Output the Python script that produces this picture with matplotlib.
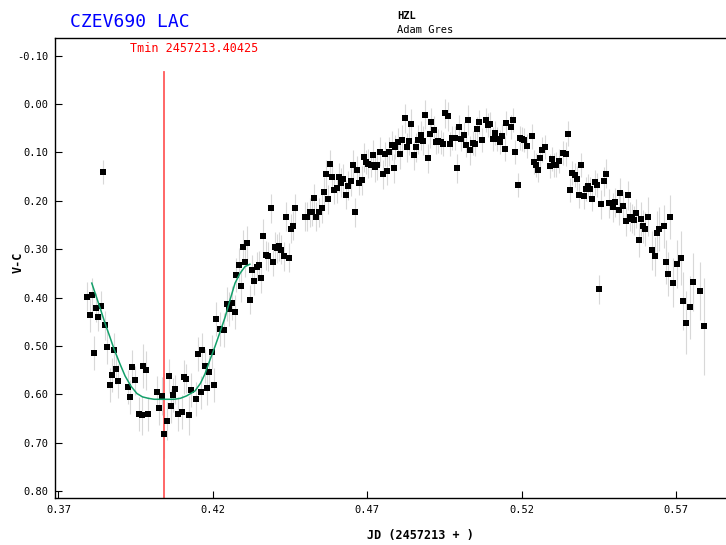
import matplotlib
matplotlib.use("Agg")
import matplotlib.pyplot as plt
import numpy as np

# JD - 2457213, V-C magnitude, error
jd = [0.3794, 0.3801, 0.3808, 0.3816, 0.3822, 0.3828, 0.3838, 0.3844, 0.3851, 0.3858,
      0.3866, 0.3873, 0.3880, 0.3887, 0.3894, 0.3925, 0.3933, 0.3939, 0.3947, 0.3962,
      0.3970, 0.3975, 0.3983, 0.3990, 0.4018, 0.4026, 0.4034, 0.4041, 0.4051, 0.4058,
      0.4064, 0.4070, 0.4079, 0.4086, 0.4099, 0.4107, 0.4114, 0.4122, 0.4128, 0.4147,
      0.4153, 0.4161, 0.4166, 0.4174, 0.4181, 0.4188, 0.4196, 0.4203, 0.4210, 0.4223,
      0.4237, 0.4245, 0.4252, 0.4261, 0.4271, 0.4276, 0.4285, 0.4291, 0.4298, 0.4305,
      0.4312, 0.4320, 0.4328, 0.4334, 0.4342, 0.4350, 0.4356, 0.4364, 0.4371, 0.4380,
      0.4388, 0.4395, 0.4401, 0.4409, 0.4414, 0.4422, 0.4431, 0.4438, 0.4446, 0.4452,
      0.4459, 0.4466, 0.4499, 0.4506, 0.4515, 0.4522, 0.4528, 0.4535, 0.4543, 0.4553,
      0.4559, 0.4567, 0.4573, 0.4580, 0.4587, 0.4593, 0.4601, 0.4609, 0.4615, 0.4623,
      0.4631, 0.4639, 0.4647, 0.4654, 0.4662, 0.4667, 0.4674, 0.4682, 0.4691, 0.4697,
      0.4704, 0.4711, 0.4719, 0.4726, 0.4733, 0.4740, 0.4750, 0.4758, 0.4765, 0.4770,
      0.4779, 0.4786, 0.4791, 0.4800, 0.4807, 0.4814, 0.4821, 0.4829, 0.4835, 0.4843,
      0.4851, 0.4857, 0.4864, 0.4873, 0.4881, 0.4888, 0.4896, 0.4902, 0.4908, 0.4915,
      0.4923, 0.4930, 0.4938, 0.4945, 0.4953, 0.4961, 0.4967, 0.4975, 0.4985, 0.4992,
      0.4998, 0.5005, 0.5013, 0.5020, 0.5027, 0.5034, 0.5042, 0.5049, 0.5057, 0.5063,
      0.5071, 0.5085, 0.5092, 0.5099, 0.5108, 0.5114, 0.5121, 0.5129, 0.5137, 0.5145,
      0.5151, 0.5166, 0.5172, 0.5179, 0.5187, 0.5194, 0.5202, 0.5208, 0.5216, 0.5233,
      0.5239, 0.5246, 0.5254, 0.5261, 0.5267, 0.5276, 0.5291, 0.5297, 0.5304, 0.5312,
      0.5320, 0.5333, 0.5345, 0.5351, 0.5358, 0.5364, 0.5372, 0.5379, 0.5386, 0.5393,
      0.5401, 0.5408, 0.5414, 0.5421, 0.5429, 0.5437, 0.5444, 0.5451, 0.5458, 0.5467,
      0.5474, 0.5482, 0.5496, 0.5504, 0.5514, 0.5520, 0.5528, 0.5537, 0.5543, 0.5551,
      0.5558, 0.5565, 0.5572, 0.5579, 0.5587, 0.5594, 0.5600, 0.5608, 0.5622, 0.5633,
      0.5638, 0.5646, 0.5661, 0.5667, 0.5674, 0.5681, 0.5689, 0.5703, 0.5717, 0.5724,
      0.5731, 0.5745, 0.5756, 0.5777, 0.5791]
vc = [0.398, 0.435, 0.394, 0.514, 0.421, 0.439, 0.417, 0.141, 0.457, 0.503,
      0.580, 0.559, 0.508, 0.548, 0.573, 0.585, 0.605, 0.544, 0.571, 0.641,
      0.643, 0.541, 0.550, 0.640, 0.596, 0.628, 0.603, 0.682, 0.655, 0.562,
      0.623, 0.601, 0.589, 0.641, 0.636, 0.564, 0.568, 0.643, 0.591, 0.610,
      0.517, 0.596, 0.508, 0.541, 0.586, 0.553, 0.512, 0.580, 0.444, 0.465,
      0.467, 0.414, 0.424, 0.412, 0.430, 0.353, 0.333, 0.375, 0.295, 0.327,
      0.287, 0.404, 0.342, 0.365, 0.336, 0.333, 0.360, 0.273, 0.312, 0.315,
      0.215, 0.326, 0.295, 0.298, 0.294, 0.301, 0.315, 0.233, 0.318, 0.258,
      0.251, 0.215, 0.233, 0.233, 0.224, 0.223, 0.195, 0.233, 0.224, 0.215,
      0.181, 0.145, 0.197, 0.124, 0.151, 0.177, 0.174, 0.151, 0.163, 0.154,
      0.187, 0.169, 0.160, 0.126, 0.224, 0.137, 0.163, 0.158, 0.110, 0.120,
      0.123, 0.126, 0.105, 0.131, 0.127, 0.099, 0.145, 0.103, 0.138, 0.099,
      0.085, 0.133, 0.088, 0.079, 0.104, 0.074, 0.029, 0.089, 0.076, 0.041,
      0.106, 0.089, 0.074, 0.065, 0.076, 0.022, 0.112, 0.061, 0.038, 0.054,
      0.079, 0.077, 0.079, 0.083, 0.019, 0.025, 0.083, 0.070, 0.070, 0.133,
      0.048, 0.072, 0.063, 0.085, 0.033, 0.096, 0.081, 0.083, 0.051, 0.037,
      0.074, 0.033, 0.044, 0.042, 0.072, 0.060, 0.073, 0.078, 0.067, 0.092,
      0.040, 0.047, 0.033, 0.099, 0.167, 0.071, 0.073, 0.074, 0.087, 0.067,
      0.119, 0.126, 0.136, 0.112, 0.094, 0.089, 0.128, 0.114, 0.126, 0.125,
      0.117, 0.101, 0.103, 0.061, 0.178, 0.142, 0.147, 0.154, 0.189, 0.126,
      0.191, 0.176, 0.169, 0.175, 0.196, 0.162, 0.167, 0.383, 0.207, 0.160,
      0.144, 0.205, 0.213, 0.203, 0.219, 0.183, 0.210, 0.242, 0.189, 0.233,
      0.237, 0.240, 0.226, 0.281, 0.237, 0.253, 0.258, 0.233, 0.302, 0.315,
      0.267, 0.258, 0.253, 0.326, 0.351, 0.233, 0.369, 0.330, 0.318, 0.407,
      0.452, 0.420, 0.367, 0.387, 0.459]
err = [0.030, 0.035, 0.035, 0.035, 0.030, 0.030, 0.030, 0.025, 0.030, 0.035,
       0.035, 0.035, 0.035, 0.030, 0.035, 0.035, 0.035, 0.035, 0.030, 0.035,
       0.040, 0.045, 0.040, 0.035, 0.035, 0.035, 0.040, 0.050, 0.040, 0.035,
       0.035, 0.035, 0.030, 0.035, 0.035, 0.035, 0.030, 0.040, 0.035, 0.035,
       0.035, 0.035, 0.035, 0.035, 0.035, 0.035, 0.035, 0.035, 0.035, 0.035,
       0.035, 0.035, 0.035, 0.035, 0.035, 0.035, 0.035, 0.035, 0.035, 0.030,
       0.035, 0.030, 0.030, 0.030, 0.030, 0.030, 0.030, 0.035, 0.030, 0.030,
       0.030, 0.030, 0.030, 0.030, 0.030, 0.030, 0.030, 0.030, 0.030, 0.030,
       0.030, 0.030, 0.030, 0.030, 0.030, 0.030, 0.030, 0.030, 0.030, 0.030,
       0.030, 0.030, 0.030, 0.030, 0.030, 0.030, 0.030, 0.030, 0.030, 0.030,
       0.030, 0.030, 0.030, 0.030, 0.030, 0.030, 0.025, 0.030, 0.030, 0.025,
       0.030, 0.025, 0.030, 0.030, 0.030, 0.030, 0.030, 0.025, 0.030, 0.030,
       0.030, 0.030, 0.025, 0.030, 0.030, 0.030, 0.030, 0.030, 0.030, 0.030,
       0.030, 0.030, 0.030, 0.030, 0.030, 0.030, 0.030, 0.030, 0.030, 0.030,
       0.025, 0.025, 0.025, 0.025, 0.030, 0.030, 0.025, 0.025, 0.025, 0.030,
       0.025, 0.025, 0.025, 0.025, 0.030, 0.030, 0.025, 0.025, 0.025, 0.025,
       0.025, 0.025, 0.025, 0.025, 0.025, 0.025, 0.025, 0.025, 0.025, 0.025,
       0.025, 0.025, 0.025, 0.025, 0.025, 0.025, 0.025, 0.025, 0.025, 0.025,
       0.025, 0.025, 0.025, 0.025, 0.025, 0.025, 0.025, 0.025, 0.025, 0.025,
       0.025, 0.025, 0.025, 0.025, 0.025, 0.025, 0.025, 0.025, 0.025, 0.025,
       0.025, 0.025, 0.025, 0.025, 0.025, 0.025, 0.025, 0.030, 0.030, 0.030,
       0.030, 0.030, 0.030, 0.030, 0.030, 0.030, 0.030, 0.030, 0.030, 0.030,
       0.030, 0.030, 0.030, 0.035, 0.035, 0.035, 0.035, 0.040, 0.040, 0.040,
       0.045, 0.045, 0.045, 0.045, 0.045, 0.045, 0.050, 0.050, 0.055, 0.060,
       0.065, 0.065, 0.060, 0.060, 0.100]

# fitted minimum curve
fit_jd = [0.3808, 0.3830, 0.3851, 0.3866, 0.3880, 0.3898, 0.3916, 0.3935, 0.3954, 0.3972,
          0.3991, 0.4010, 0.4043, 0.4075, 0.4095, 0.4115, 0.4142, 0.4160, 0.4175, 0.4190,
          0.4207, 0.4224, 0.4240, 0.4256, 0.4272, 0.4288, 0.4304, 0.4320]
fit_vc = [0.370, 0.412, 0.453, 0.480, 0.506, 0.535, 0.562, 0.583, 0.598, 0.605,
          0.608, 0.610, 0.610, 0.610, 0.608, 0.603, 0.593, 0.577, 0.557, 0.530,
          0.501, 0.470, 0.440, 0.404, 0.370, 0.350, 0.336, 0.331]

tmin = 0.40425
xticks = [0.37, 0.42, 0.47, 0.52, 0.57]
yticks = [-0.10, 0.00, 0.10, 0.20, 0.30, 0.40, 0.50, 0.60, 0.70, 0.80]

mono = "DejaVu Sans Mono"
fig = plt.figure(figsize=(7.26, 5.45), dpi=100)
ax = fig.add_axes([0.0758, 0.0862, 0.9242, 0.8441])

ax.errorbar(jd, vc, yerr=err, fmt="none", ecolor="#d8d8d8", elinewidth=0.8, zorder=1)
ax.plot(jd, vc, "s", color="black", markersize=3.8, markeredgewidth=0, zorder=3)
ax.plot(fit_jd, fit_vc, color="#13a06a", linewidth=1.1, zorder=4)
ax.axvline(tmin, ymin=0, ymax=0.925, color="#ff5a5a", linewidth=1.3, zorder=2)

ax.set_xlim(0.3689, 0.5862)
ax.set_ylim(0.814, -0.1364)
ax.set_xticks(xticks)
ax.set_xticklabels(["%.2f" % v for v in xticks], fontfamily=mono, fontsize=7.5)
ax.set_yticks(yticks)
ax.set_yticklabels(["%.2f" % v for v in yticks], fontfamily=mono, fontsize=7.5)
ax.tick_params(direction="in", length=5, width=0.8, pad=5)
ax.spines["right"].set_visible(False)
for s in ["left", "top", "bottom"]:
    ax.spines[s].set_linewidth(1.0)

ax.text(0.1118, 0.978, "Tmin 2457213.40425", transform=ax.transAxes, color="red",
        fontfamily=mono, fontsize=8.5, va="center", ha="left")

fig.text(0.0964, 0.9596, "CZEV690 LAC", color="blue", fontfamily=mono, fontsize=13,
         va="center", ha="left")
fig.text(0.547, 0.9706, "HZL", color="black", fontfamily=mono, fontsize=7.5,
         fontweight="bold", va="center", ha="left")
fig.text(0.547, 0.945, "Adam Gres", color="black", fontfamily=mono, fontsize=7.5,
         va="center", ha="left")
fig.text(0.5785, 0.0183, "JD (2457213 + )", fontfamily=mono, fontsize=8.5,
         fontweight="bold", va="center", ha="center")
fig.text(0.0248, 0.519, "V-C", fontfamily=mono, fontsize=8.5, fontweight="bold",
         rotation=90, va="center", ha="center")

fig.savefig("out.png", dpi=100)
